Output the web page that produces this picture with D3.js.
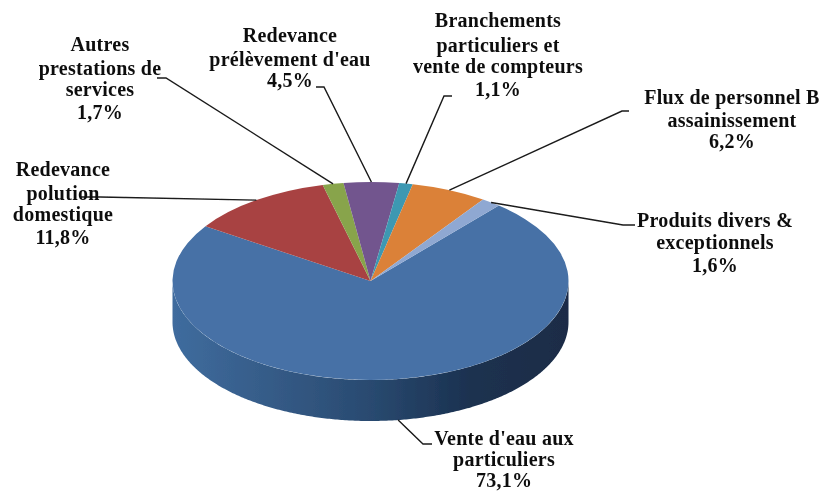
<!DOCTYPE html>
<html>
	<head>
		<title>Recettes</title>

		<style>
			html, body
			{
				margin: 0;
				background: #fff;
			}

			svg
			{
				display: block;
				width: 821px;
				height: 491px;
			}

			.sliceLabel
			{
				font: bold 20px "Liberation Serif", serif;
				letter-spacing: 0.25px;
				fill: #111;
				text-anchor: middle;
			}

			.leader
			{
				fill: none;
				stroke: #1a1a1a;
				stroke-width: 1.4px;
			}
		</style>

		<script src="https://d3js.org/d3.v7.min.js"></script>
	</head>

	<body>
		<svg viewBox="0 0 821 491"></svg>

		<script>
			// values, clockwise from the big slice
			const categories = [
				"Vente d'eau aux|particuliers",
				"Redevance|polution|domestique",
				"Autres|prestations de|services",
				"Redevance|prélèvement d'eau",
				"Branchements|particuliers et|vente de compteurs",
				"Flux de personnel B|assainissement",
				"Produits divers &|exceptionnels"
			];
			const shares = [73.1, 11.8, 1.7, 4.5, 1.1, 6.2, 1.6];
			const colours = ["#4671a6", "#a84342", "#88a44c", "#72558e", "#3c98b2", "#db8138", "#8fa8d2"];

			// label placement: centre x, one baseline per line, then the elbow of the leader line
			const labelX = [504, 63, 100, 290, 498, 732, 715];
			const labelY = [
				[445, 466, 487],
				[176, 200, 221, 244],
				[51, 75, 96, 119],
				[42, 66, 87],
				[27, 52, 73, 96],
				[104, 127, 148],
				[227, 249, 272]
			];
			const leaderEnds = [
				[[432, 444], [423, 444]],
				[[80, 197], [100, 197]],
				[[157, 78], [166, 78]],
				[[316, 87], [324, 87]],
				[[452, 96], [444, 96]],
				[[629, 111], [622, 111]],
				[[635, 225], [623, 225]]
			];

			const cx = 370.5, cy = 281, rx = 198, ry = 99, depth = 41;
			const startAngle = 40.4 * Math.PI / 180;

			const svg = d3.select("svg");

			const defs = svg.append("defs");
			defs.append("filter")
				.attr("id", "soft")
				.attr("x", 0).attr("y", 0).attr("width", 1).attr("height", 1)
				.append("feGaussianBlur")
				.attr("stdDeviation", 0.45);

			const rimGradient = defs.append("linearGradient")
				.attr("id", "rim")
				.attr("gradientUnits", "userSpaceOnUse")
				.attr("x1", cx - rx).attr("x2", cx + rx)
				.attr("y1", 0).attr("y2", 0);
			rimGradient.selectAll("stop")
				.data([[0, "#3f6c9e"], [0.25, "#355b87"], [0.5, "#294a70"], [0.75, "#1b3150"], [1, "#1a2c46"]])
				.join("stop")
				.attr("offset", d => d[0])
				.attr("stop-color", d => d[1]);

			const root = svg.append("g").attr("filter", "url(#soft)");

			const pie = d3.pie().sort(null)
				.startAngle(startAngle)
				.endAngle(startAngle + 2 * Math.PI);
			const slices = pie(shares);

			// angle (clockwise from 12 o'clock) to a point of the tilted disc
			const xAt = a => cx + rx * Math.sin(a);
			const yAt = a => cy - ry * Math.cos(a);

			// front wall: only the part of each slice between 3 and 9 o'clock shows
			const wall = d3.area()
				.x(xAt)
				.y0(yAt)
				.y1(a => yAt(a) + depth);

			root.selectAll("path.wall")
				.data(slices)
				.join("path")
				.attr("class", "wall")
				.attr("fill", "url(#rim)")
				.attr("d", function(d)
				{
					const from = Math.max(d.startAngle, Math.PI / 2);
					const to = Math.min(d.endAngle, 3 * Math.PI / 2);
					if (to <= from) return null;
					return wall(d3.range(from, to, 0.01).concat([to]));
				});

			// top face: a flat pie squashed vertically
			const arc = d3.arc().innerRadius(0).outerRadius(rx);

			root.append("g")
				.attr("transform", "translate(" + cx + "," + cy + ") scale(1," + (ry / rx) + ")")
				.selectAll("path")
				.data(slices)
				.join("path")
				.attr("fill", (d, i) => colours[i])
				.attr("d", arc);

			// leader lines start on the rim at the middle of the slice
			const leaderLine = d3.line();

			root.selectAll("path.leader")
				.data(slices)
				.join("path")
				.attr("class", "leader")
				.attr("d", function(d, i)
				{
					const mid = (d.startAngle + d.endAngle) / 2;
					const front = Math.cos(mid) < 0;
					const onRim = [xAt(mid), yAt(mid) + (front ? depth : 0)];
					return leaderLine(leaderEnds[i].concat([onRim]));
				});

			const labels = root.selectAll("text.sliceLabel")
				.data(categories)
				.join("text")
				.attr("class", "sliceLabel");

			labels.each(function(d, i)
			{
				const lines = d.split("|").concat([shares[i].toFixed(1).replace(".", ",") + "%"]);
				d3.select(this).selectAll("tspan")
					.data(lines)
					.join("tspan")
					.attr("x", labelX[i])
					.attr("y", (line, j) => labelY[i][j])
					.text(line => line);
			});
		</script>
	</body>
</html>
